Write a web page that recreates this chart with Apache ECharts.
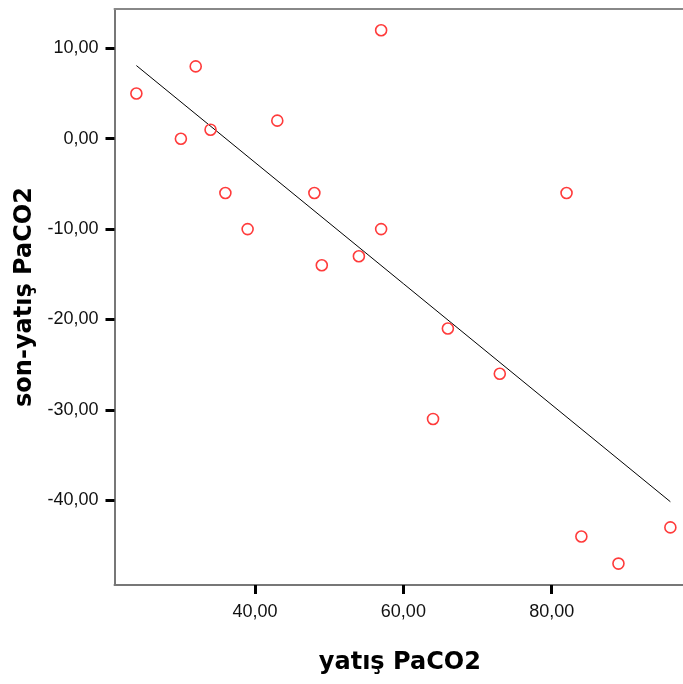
<!DOCTYPE html>
<html>
<head>
<meta charset="utf-8">
<script src="https://cdn.jsdelivr.net/npm/echarts@6/dist/echarts.min.js"></script>
<style>html,body{margin:0;padding:0;background:#fff}#c{width:683px;height:684px}</style>
</head>
<body>
<div id="c"></div>
<script>
// data
const xValues = [24, 30, 32, 34, 36, 39, 43, 48, 49, 54, 57, 57, 64, 66, 73, 82, 84, 89, 96];
const yValues = [5, 0, 8, 1, -6, -10, 2, -6, -14, -13, -10, 12, -31, -21, -26, -6, -44, -47, -43];
const xTicks = [40, 60, 80];
const yTicks = [10, 0, -10, -20, -30, -40];
const xTitle = 'yatış PaCO2';
const yTitle = 'son-yatış PaCO2';

// least squares fit line
const n = xValues.length;
const mx = xValues.reduce((a, b) => a + b, 0) / n;
const my = yValues.reduce((a, b) => a + b, 0) / n;
let sxy = 0, sxx = 0;
for (let i = 0; i < n; i++) { sxy += (xValues[i] - mx) * (yValues[i] - my); sxx += (xValues[i] - mx) ** 2; }
const slope = sxy / sxx, icpt = my - slope * mx;
const xLo = Math.min(...xValues), xHi = Math.max(...xValues);
const fitLine = [[xLo, icpt + slope * xLo], [xHi, icpt + slope * xHi]];

const fmt = v => v.toFixed(2).replace('.', ',');
const X_MIN = 21.05, X_MAX = 98.0, Y_MIN = -49.37, Y_MAX = 14.35;

const chart = echarts.init(document.getElementById('c'), null, {renderer: 'canvas'});
chart.setOption({
  animation: false,
  backgroundColor: '#fff',
  grid: {left: 114.5, right: -2.2, top: 9, bottom: 99, containLabel: false, outerBoundsMode: 'none'},
  xAxis: [{
    type: 'value', min: X_MIN, max: X_MAX, position: 'bottom',
    name: xTitle, nameLocation: 'middle', nameGap: 66,
    nameTextStyle: {fontFamily: 'DejaVu Sans', fontWeight: 'bold', fontSize: 24, color: '#000'},
    axisLine: {show: true, onZero: false, lineStyle: {color: '#777', width: 2}},
    axisTick: {show: true, customValues: xTicks, length: 9, lineStyle: {color: '#000', width: 3}},
    axisLabel: {show: true, customValues: xTicks, formatter: fmt, margin: 18,
      fontFamily: 'Liberation Sans, Arial', fontSize: 18, color: '#111'},
    splitLine: {show: false}
  }, {
    type: 'value', min: X_MIN, max: X_MAX, position: 'top',
    axisLine: {show: true, onZero: false, lineStyle: {color: '#888', width: 2}},
    axisTick: {show: false}, axisLabel: {show: false}, splitLine: {show: false}
  }],
  yAxis: [{
    type: 'value', min: Y_MIN, max: Y_MAX, position: 'left',
    name: yTitle, nameLocation: 'middle', nameGap: 72, nameRotate: 90,
    nameTextStyle: {fontFamily: 'DejaVu Sans', fontWeight: 'bold', fontSize: 24, color: '#000'},
    axisLine: {show: true, onZero: false, lineStyle: {color: '#777', width: 2}},
    axisTick: {show: true, customValues: yTicks, length: 9, lineStyle: {color: '#000', width: 3}},
    axisLabel: {show: true, customValues: yTicks, formatter: fmt, margin: 16,
      fontFamily: 'Liberation Sans, Arial', fontSize: 18, color: '#111'},
    splitLine: {show: false}
  }],
  series: [{
    type: 'line', data: fitLine, xAxisIndex: 0, yAxisIndex: 0,
    showSymbol: false, symbol: 'none', silent: true,
    lineStyle: {color: '#000', width: 1}, z: 2
  }, {
    type: 'scatter', data: xValues.map((x, i) => [x, yValues[i]]), xAxisIndex: 0, yAxisIndex: 0,
    symbol: 'circle', symbolSize: 11,
    itemStyle: {color: 'rgba(255,255,255,0)', borderColor: '#ff3b3b', borderWidth: 1.6, opacity: 1},
    z: 3
  }]
});
</script>
</body>
</html>
